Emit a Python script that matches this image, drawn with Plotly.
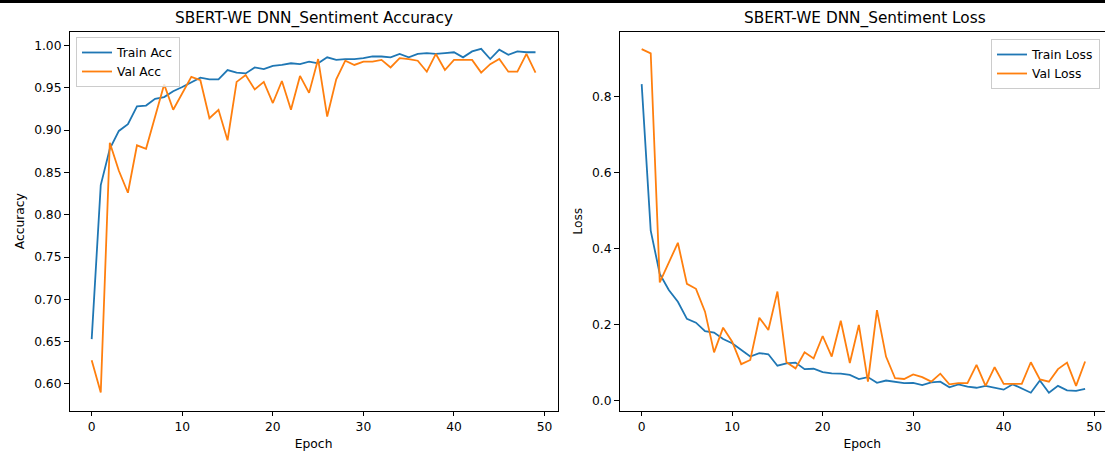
import plotly.graph_objects as go

# ---- training history (50 epochs) ----
epochs = list(range(50))

train_acc = [0.653, 0.835, 0.878, 0.899, 0.907, 0.928, 0.929, 0.937, 0.939, 0.946,
             0.951, 0.957, 0.962, 0.960, 0.960, 0.971, 0.968, 0.967, 0.974, 0.972,
             0.976, 0.977, 0.979, 0.978, 0.981, 0.979, 0.986, 0.983, 0.984, 0.984,
             0.985, 0.987, 0.987, 0.986, 0.990, 0.986, 0.990, 0.991, 0.990, 0.991,
             0.992, 0.986, 0.993, 0.996, 0.984, 0.995, 0.989, 0.993, 0.992, 0.992]

val_acc = [0.628, 0.590, 0.885, 0.852, 0.826, 0.882, 0.878, 0.916, 0.954, 0.924,
           0.944, 0.963, 0.959, 0.914, 0.924, 0.888, 0.957, 0.965, 0.948, 0.957,
           0.932, 0.958, 0.924, 0.964, 0.944, 0.984, 0.916, 0.960, 0.982, 0.977,
           0.981, 0.981, 0.983, 0.974, 0.985, 0.984, 0.982, 0.969, 0.990, 0.971,
           0.983, 0.983, 0.983, 0.968, 0.978, 0.984, 0.969, 0.969, 0.990, 0.968]

train_loss = [0.832, 0.447, 0.333, 0.291, 0.260, 0.215, 0.205, 0.183, 0.179, 0.162,
              0.151, 0.133, 0.116, 0.125, 0.122, 0.092, 0.098, 0.100, 0.083, 0.084,
              0.075, 0.072, 0.071, 0.068, 0.057, 0.062, 0.047, 0.053, 0.050, 0.046,
              0.047, 0.041, 0.048, 0.050, 0.035, 0.043, 0.037, 0.034, 0.039, 0.035,
              0.029, 0.043, 0.032, 0.021, 0.053, 0.021, 0.039, 0.027, 0.026, 0.031]

val_loss = [0.924, 0.913, 0.311, 0.363, 0.415, 0.307, 0.294, 0.234, 0.127, 0.192,
            0.155, 0.096, 0.107, 0.218, 0.186, 0.287, 0.101, 0.085, 0.127, 0.111,
            0.170, 0.116, 0.210, 0.099, 0.199, 0.050, 0.238, 0.116, 0.059, 0.057,
            0.069, 0.062, 0.050, 0.071, 0.043, 0.046, 0.046, 0.094, 0.039, 0.088,
            0.044, 0.044, 0.044, 0.101, 0.056, 0.050, 0.083, 0.100, 0.039, 0.103]

acc_ticks = [0.60, 0.65, 0.70, 0.75, 0.80, 0.85, 0.90, 0.95, 1.00]
loss_ticks = [0.0, 0.2, 0.4, 0.6, 0.8]
epoch_ticks = [0, 10, 20, 30, 40, 50]

BLUE = "#1f77b4"
ORANGE = "#ff7f0e"
FONT = "DejaVu Sans"
W, H = 1105, 453


def px_x(p):
    return p / W


def px_y(p):
    return (H - p) / H


fig = go.Figure()

fig.add_trace(go.Scatter(x=epochs, y=train_acc, mode="lines", name="Train Acc",
                         line=dict(color=BLUE, width=1.8), xaxis="x", yaxis="y",
                         legend="legend"))
fig.add_trace(go.Scatter(x=epochs, y=val_acc, mode="lines", name="Val Acc",
                         line=dict(color=ORANGE, width=1.8), xaxis="x", yaxis="y",
                         legend="legend"))
fig.add_trace(go.Scatter(x=epochs, y=train_loss, mode="lines", name="Train Loss",
                         line=dict(color=BLUE, width=1.8), xaxis="x2", yaxis="y2",
                         legend="legend2"))
fig.add_trace(go.Scatter(x=epochs, y=val_loss, mode="lines", name="Val Loss",
                         line=dict(color=ORANGE, width=1.8), xaxis="x2", yaxis="y2",
                         legend="legend2"))

ydom = [px_y(410.7), px_y(31.7)]
axis_common = dict(showline=True, linecolor="black", linewidth=1, ticks="outside",
                   ticklen=4.5, tickwidth=1, tickcolor="black", showgrid=False,
                   zeroline=False, tickfont=dict(family=FONT, size=12.3, color="black"))
title_font = dict(family=FONT, size=12.3, color="black")

fig.update_layout(
    width=W, height=H,
    margin=dict(l=0, r=0, t=0, b=0),
    paper_bgcolor="white", plot_bgcolor="white",
    font=dict(family=FONT, size=12.3, color="black"),
    xaxis=dict(domain=[px_x(69.5), px_x(557.7)], range=[-2.45, 51.45],
               tickvals=epoch_ticks, mirror=True, anchor="y",
               title=dict(text="Epoch", font=title_font, standoff=6), **axis_common),
    yaxis=dict(domain=ydom, range=[0.5684, 1.0163], tickvals=acc_ticks,
               tickformat=".2f", mirror=True, anchor="x",
               title=dict(text="Accuracy", font=title_font, standoff=6), **axis_common),
    xaxis2=dict(domain=[px_x(619.5), 1.0], range=[-2.45, -2.45 + (W - 619.5) / 9.05],
                tickvals=epoch_ticks, mirror=True, anchor="y2",
                title=dict(text="Epoch", font=title_font, standoff=6), **axis_common),
    yaxis2=dict(domain=ydom, range=[-0.0263, 0.9698], tickvals=loss_ticks,
                tickformat=".1f", mirror=False, anchor="x2",
                title=dict(text="Loss", font=title_font, standoff=6), **axis_common),
    legend=dict(x=px_x(76), y=px_y(37), xanchor="left", yanchor="top",
                bgcolor="rgba(255,255,255,0.8)", bordercolor="#cccccc", borderwidth=1,
                font=dict(family=FONT, size=12.3, color="black")),
    legend2=dict(x=px_x(1100), y=px_y(39), xanchor="right", yanchor="top",
                 bgcolor="rgba(255,255,255,0.8)", bordercolor="#cccccc", borderwidth=1,
                 font=dict(family=FONT, size=12.3, color="black")),
    showlegend=True,
    annotations=[
        dict(text="SBERT-WE DNN_Sentiment Accuracy", x=px_x(313.6), y=px_y(18.5),
             xref="paper", yref="paper", xanchor="center", yanchor="middle",
             showarrow=False, font=dict(family=FONT, size=15.3, color="black")),
        dict(text="SBERT-WE DNN_Sentiment Loss", x=px_x(864.5), y=px_y(18.5),
             xref="paper", yref="paper", xanchor="center", yanchor="middle",
             showarrow=False, font=dict(family=FONT, size=15.3, color="black")),
    ],
    shapes=[
        dict(type="rect", xref="paper", yref="paper", x0=0, x1=1, y0=px_y(3), y1=1,
             fillcolor="black", line=dict(width=0), layer="above"),
    ],
)

fig.write_html("out.html")
